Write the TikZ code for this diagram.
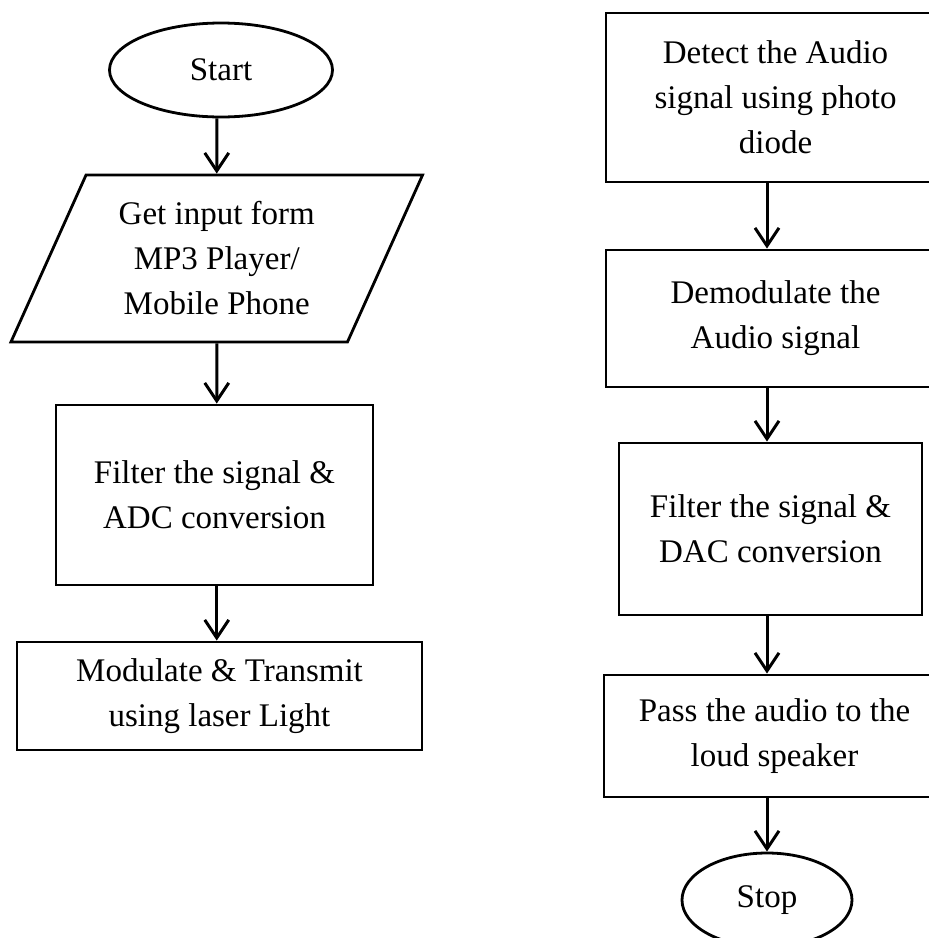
\documentclass[tikz,border=0pt]{standalone}
\usepackage{fontspec}
\setmainfont{Liberation Serif}
\usepackage{tikz}
\usetikzlibrary{shapes.geometric, arrows.meta}

\begin{document}
\begin{tikzpicture}[x=1pt, y=-1pt,
    every node/.style={font=\fontsize{33}{45}\selectfont, align=center, inner sep=0pt},
    box/.style={draw, line width=2.8pt, rectangle},
    term/.style={draw, line width=2.8pt, ellipse},
    io/.style={draw, line width=2.8pt, trapezium, trapezium left angle=63.6, trapezium right angle=116.4, trapezium stretches=true},
    flow/.style={line width=3pt, -{Straight Barb[length=18pt, width=24pt]}}]
    \useasboundingbox (0,0) rectangle (929,938);
    % transmitter side
    \node[term, minimum width=223pt, minimum height=94pt] (start) at (221,70) {Start};
    \node[io, minimum width=412pt, minimum height=167pt] (input) at (216.75,258.5) {Get input form\\MP3 Player/\\Mobile Phone};
    \node[box, minimum width=317pt, minimum height=180pt] (adc) at (214.5,495) {Filter the signal \&\\ADC conversion};
    \node[box, minimum width=405pt, minimum height=108pt] (tx) at (219.5,696) {Modulate \& Transmit\\using laser Light};
    % receiver side
    \node[box, minimum width=339pt, minimum height=169pt] (detect) at (775.5,97.5) {Detect the Audio\\signal using photo\\diode};
    \node[box, minimum width=339pt, minimum height=137pt] (demod) at (775.5,318.5) {Demodulate the\\Audio signal};
    \node[box, minimum width=303pt, minimum height=172pt] (dac) at (770.5,529) {Filter the signal \&\\DAC conversion};
    \node[box, minimum width=341pt, minimum height=122pt] (speaker) at (774.5,736) {Pass the audio to the\\loud speaker};
    \node[term, minimum width=170pt, minimum height=94pt] (stop) at (767,900) {Stop};
    \draw[flow] (start.south -| input) -- (input.north);
    \draw[flow] (input.south) -- (adc.north -| input);
    \draw[flow] (adc.south -| input) -- (tx.north -| input);
    \draw[flow] (detect.south -| stop) -- (demod.north -| stop);
    \draw[flow] (demod.south -| stop) -- (dac.north -| stop);
    \draw[flow] (dac.south -| stop) -- (speaker.north -| stop);
    \draw[flow] (speaker.south -| stop) -- (stop.north);
\end{tikzpicture}
\end{document}
